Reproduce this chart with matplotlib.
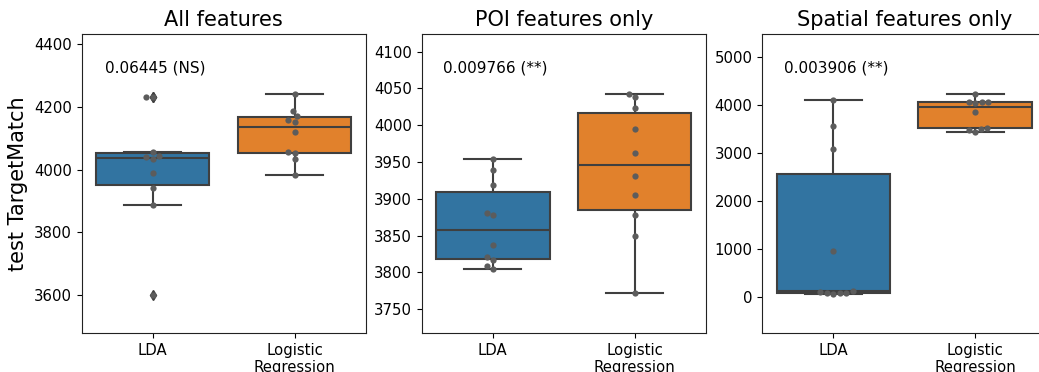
import matplotlib
matplotlib.use('Agg')
import matplotlib.pyplot as plt
import matplotlib.transforms as mtransforms
import pandas as pd
import seaborn as sns

models = ['LDA', 'Logistic\nRegression']
titles = ['All features', 'POI features only', 'Spatial features only']
pvalues = ['0.06445 (NS)', '0.009766 (**)', '0.003906 (**)']

# test TargetMatch per fold (10 folds)
all_lda = [4232, 4233, 4055, 4041, 4042, 4035, 3988, 3941, 3889, 3602]
all_lr = [4240, 4187, 4170, 4158, 4151, 4120, 4055, 4053, 4033, 3982]
poi_lda = [3954, 3939, 3919, 3881, 3878, 3837, 3821, 3817, 3809, 3804]
poi_lr = [4042, 4039, 4023, 3995, 3962, 3931, 3905, 3878, 3849, 3772]
spa_lda = [4097, 3569, 3090, 950, 120, 105, 88, 82, 75, 62]
spa_lr = [4242, 4075, 4070, 4065, 4050, 3855, 3525, 3510, 3480, 3438]

results = [(all_lda, all_lr), (poi_lda, poi_lr), (spa_lda, spa_lr)]
ylims = [(3479, 4432), (3717, 4124), (-764, 5485)]

colors = ['#3274a1', '#e1812c']
gray = '#3f3f3f'

fig = plt.figure(figsize=(10.39, 3.72), dpi=100)
lefts = [0.0786, 0.4059, 0.7337]

for i, (lda, lr) in enumerate(results):
    ax = fig.add_axes([lefts[i], 0.104, 0.2733, 0.8046])
    df = pd.DataFrame({'model': [models[0]] * len(lda) + [models[1]] * len(lr),
                       'score': lda + lr})
    sns.boxplot(data=df, x='model', y='score', hue='model', order=models,
                hue_order=models, palette=colors, saturation=1, legend=False,
                linewidth=1.5, linecolor=gray, width=0.8, ax=ax,
                flierprops=dict(marker='d', markerfacecolor=gray,
                                markeredgecolor=gray, markersize=5))
    sns.swarmplot(data=df, x='model', y='score', order=models,
                  color='.36', size=4.5, ax=ax)
    ax.set_ylim(*ylims[i])
    ax.set_xlim(-0.5, 1.5)
    ax.set_xlabel('')
    ax.set_ylabel('')
    ax.set_title(titles[i], fontsize=15)
    ax.tick_params(labelsize=10.7)
    for s in ax.spines.values():
        s.set_visible(True)
        s.set_color('#222222')
    trans = mtransforms.blended_transform_factory(ax.transData, ax.transAxes)
    ax.text(0.02, 0.885, pvalues[i], transform=trans, ha='center',
            va='center', fontsize=11)

fig.axes[0].set_ylabel('test TargetMatch', fontsize=15)

fig.savefig('out.png', dpi=100)
